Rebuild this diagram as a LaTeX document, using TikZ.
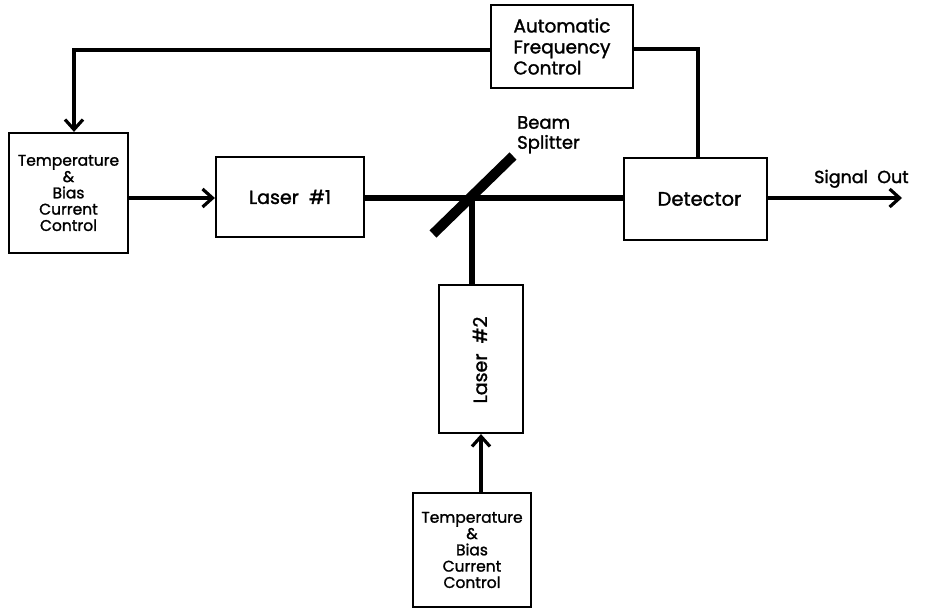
\documentclass[tikz,border=0pt]{standalone}
\usepackage{fontspec}
\setmainfont{Poppins}[FakeBold=1.5]
\newfontfamily\demi{Poppins}[FakeBold=1.4]
\usetikzlibrary{arrows.meta,calc}
\begin{document}
\begin{tikzpicture}[x=1pt,y=-1pt,
  box/.style={draw,line width=2.2pt,inner sep=0pt,align=center},
  conn/.style={line width=3.2pt},
  beam/.style={line width=6pt},
  tip/.style={-{Straight Barb[length=10pt,width=18pt,line width=3.2pt]}},
  ctrltext/.style={font=\demi\fontsize{15.5}{16.3}\selectfont},
]
\useasboundingbox (0,0) rectangle (946,609);
% boxes
\node[box,minimum width=119pt,minimum height=120pt,ctrltext] (tb1) at (68.5,193) {Temperature\\\&\\Bias\\Current\\Control};
\node[box,minimum width=148pt,minimum height=80pt,font=\fontsize{19}{22}\selectfont] (laser1) at (290,197) {Laser\ \ \#1};
\node[box,minimum width=142pt,minimum height=83pt,align=left,font=\fontsize{18.5}{21}\selectfont] (afc) at (562,46.5) {Automatic\\Frequency\\Control};
\node[box,minimum width=143pt,minimum height=82pt,font=\fontsize{19.5}{22}\selectfont] (det) at (695.5,199) {\hspace*{8pt}Detector};
\node[box,minimum width=84pt,minimum height=148pt] (laser2) at (481,359) {};
\node[rotate=90,font=\fontsize{19}{22}\selectfont] (l2text) at (480,360) {Laser\ \ \#2};
\node[box,minimum width=118pt,minimum height=114pt,ctrltext] (tb2) at (472,550) {Temperature\\\&\\Bias\\Current\\Control};
% coordinates
\coordinate (bs) at (472,198);
\coordinate (bsA) at (433,234);
\coordinate (bsB) at (513,156);
\coordinate (out) at (902,198);
% beams
\draw[beam] (laser1.east |- bs) -- (det.west |- bs);
\draw[beam] (bs) -- (bs |- laser2.north);
\draw[line width=10pt] (bsA) -- (bsB);
% control lines
\draw[conn,tip] (afc.west |- 0,50) -| ([xshift=5.5pt]tb1.north);
\draw[conn] (afc.east |- 0,49) -| ([xshift=2.5pt]det.north);
\draw[conn,tip] (tb1.east |- 0,198) -- (laser1.west |- 0,198);
\draw[conn,tip] (laser2.south |- tb2.north) -- (laser2.south);
\draw[conn,tip] (det.east |- out) -- (out);
% labels
\node[anchor=north west,align=left,inner sep=0pt,font=\fontsize{18}{20}\selectfont] (bslabel) at (517,116) {Beam\\Splitter};
\node[anchor=south west,inner sep=0pt,font=\fontsize{17.5}{20}\selectfont] (siglabel) at (814,188) {Signal\ \ Out};
\end{tikzpicture}
\end{document}
